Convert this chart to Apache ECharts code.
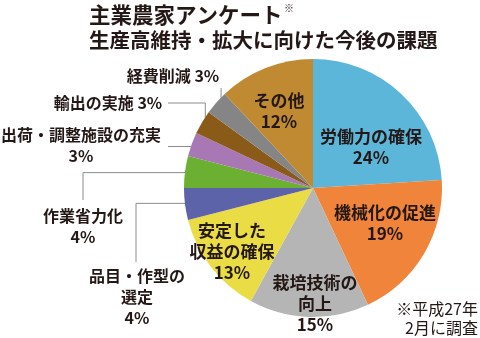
<!DOCTYPE html>
<html>
<head>
<meta charset="utf-8">
<script src="https://cdn.jsdelivr.net/npm/echarts@6/dist/echarts.min.js"></script>
<style>
  html, body { margin: 0; padding: 0; background: #ffffff; }
  #chart { width: 480px; height: 338px; }
</style>
</head>
<body>
<div id="chart"></div>
<script>
// 主業農家アンケート：生産高維持・拡大に向けた今後の課題（%）
const categories = [
  '労働力の確保', '機械化の促進', '栽培技術の\n向上', '安定した\n収益の確保',
  '品目・作型の\n選定', '作業省力化', '出荷・調整施設の充実', '輸出の実施',
  '経費削減', 'その他'
];
const shares = [24, 19, 15, 13, 4, 4, 3, 3, 3, 12];
// separator between name and value ('\n' = value on its own line)
const valueSeparators = ['\n', '\n', '\n', '\n', '\n', '\n', '\n', ' ', ' ', '\n'];
const sliceColors = [
  '#5cb6d9', '#ef843a', '#b5b5b5', '#e9dc45', '#5d63a9',
  '#6cb031', '#a878b4', '#8a5a19', '#858585', '#c08a33'
];
const titleLines = ['主業農家アンケート', '生産高維持・拡大に向けた今後の課題'];
const noteLines = ['※平成27年', '2月に調査'];

const textColor = '#231815';
const lineColor = '#8c8c8c';
const font = '"Noto Sans CJK JP", "Noto Sans", sans-serif';

const cx = 313, cy = 188, R = 129;
const outsideIdx = [4, 5, 6, 7, 8];

// label anchor points (block centres)
const labelPos = {
  0: [371, 147], 1: [385, 223], 2: [315, 304], 3: [232, 252],
  4: [137, 297], 5: [83, 226], 6: [81, 145], 7: [108, 103],
  8: [173, 76], 9: [279, 111]
};

// point inside a slice on its bisector, derived from the data
const total = shares.reduce((a, b) => a + b, 0);
function slicePoint(i, k) {
  let before = 0;
  for (let j = 0; j < i; j++) before += shares[j];
  const a = (before + shares[i] / 2) / total * Math.PI * 2;
  return [cx + Math.sin(a) * R * k, cy - Math.cos(a) * R * k];
}

// leader lines for the small slices
const leaders = [];
(function () {
  const p4 = slicePoint(4, 0.95);
  leaders.push([p4, [136, p4[1]], [136, 262]]);
  const p5 = slicePoint(5, 0.95);
  leaders.push([p5, [83, p5[1]], [83, 200]]);
  const p6 = slicePoint(6, 0.95);
  leaders.push([p6, [168, p6[1]]]);
  const p7 = slicePoint(7, 0.97);
  leaders.push([p7, [p7[0], 103], [168, 103]]);
  const p8 = slicePoint(8, 0.95);
  leaders.push([p8, [p8[0], 88]]);
})();

const chart = echarts.init(document.getElementById('chart'), null, { renderer: 'canvas' });

const graphics = [
  {
    type: 'text', left: 89, top: 4,
    style: { text: titleLines[0], font: 'bold 21.5px ' + font, fill: textColor }
  },
  {
    type: 'text', left: 284, top: 3,
    style: { text: '※', font: 'bold 10px ' + font, fill: textColor }
  },
  {
    type: 'text', left: 89, top: 30,
    style: { text: titleLines[1], font: 'bold 20.5px ' + font, fill: textColor }
  },
  {
    type: 'text', x: 478, y: 299,
    style: {
      text: noteLines.join('\n'), font: '16px ' + font, fill: textColor,
      align: 'right', lineHeight: 19
    }
  }
];
leaders.forEach(pts => {
  graphics.push({
    type: 'polyline', silent: true,
    shape: { points: pts },
    style: { stroke: lineColor, lineWidth: 1, fill: null }
  });
});

chart.setOption({
  backgroundColor: '#ffffff',
  animation: false,
  graphic: graphics,
  series: [{
    type: 'pie',
    center: [cx, cy],
    radius: R,
    startAngle: 90,
    clockwise: true,
    silent: true,
    avoidLabelOverlap: false,
    itemStyle: { borderWidth: 0 },
    label: {
      show: true,
      position: 'inside',
      color: textColor,
      fontFamily: font,
      fontWeight: 'bold',
      fontSize: 17,
      lineHeight: 21,
      align: 'center',
      textBorderWidth: 0,
      formatter: p => categories[p.dataIndex] + valueSeparators[p.dataIndex] + p.value + '%'
    },
    labelLine: { show: false },
    labelLayout: p => {
      const pos = labelPos[p.dataIndex];
      return { x: pos[0], y: pos[1], align: 'center', verticalAlign: 'middle', hideOverlap: false };
    },
    emphasis: { disabled: true },
    data: shares.map((v, i) => ({
      name: categories[i],
      value: v,
      itemStyle: { color: sliceColors[i] },
      label: outsideIdx.indexOf(i) >= 0 ? { fontSize: 16 } : {}
    }))
  }]
});
</script>
</body>
</html>
